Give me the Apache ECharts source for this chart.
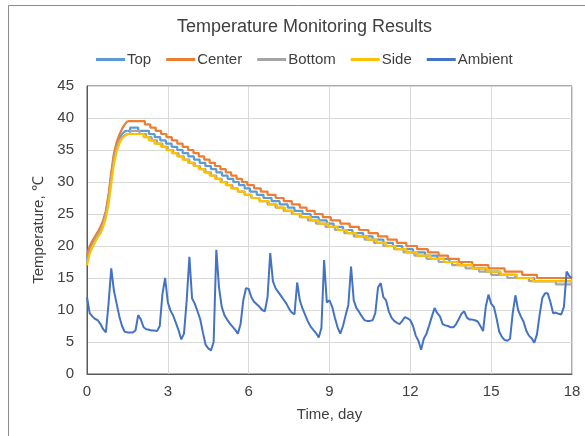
<!DOCTYPE html>
<html>
<head>
    <meta charset="UTF-8">
    <title>Temperature Monitoring Results</title>
    <script src="https://cdn.jsdelivr.net/npm/echarts@6/dist/echarts.min.js"></script>
    <style>
        html, body { margin: 0; padding: 0; background: #fff; }
        #main { width: 585px; height: 436px; }
    </style>
</head>
<body>
<div id="main"></div>
<script type="text/javascript">

    // heating phase, day 0 - 1.5 (smooth readings)
    var riseDays = [0, 0.1, 0.2, 0.3, 0.4, 0.5, 0.6, 0.7, 0.8, 0.9, 1, 1.1, 1.2, 1.3, 1.4, 1.5];
    var topRise = [18.0, 19.6, 20.4, 21.2, 22.0, 22.7, 23.7, 25.2, 27.6, 31.0, 34.0, 35.7, 36.8, 37.5, 37.9, 38.0];
    var centerRise = [18.5, 20.0, 20.8, 21.5, 22.2, 23.0, 24.0, 25.5, 28.0, 31.5, 34.5, 36.2, 37.4, 38.3, 39.0, 39.5];
    var bottomRise = [17.5, 19.2, 20.2, 21.0, 21.8, 22.5, 23.5, 25.0, 27.3, 30.6, 33.6, 35.4, 36.5, 37.0, 37.3, 37.5];
    var sideRise = [17.0, 18.8, 19.8, 20.6, 21.4, 22.0, 23.0, 24.4, 26.6, 29.8, 32.8, 34.8, 36.0, 36.8, 37.2, 37.5];

    // cooling phase: [day, reading] at each 0.5 degree step of the sensor
    var topSteps = [[1.5, 38.0], [1.6, 38.5], [1.9, 38.0], [2.3, 37.5], [2.51, 37.0], [2.72, 36.5], [2.93, 36.0],
        [3.14, 35.5], [3.35, 35.0], [3.55, 34.5], [3.76, 34.0], [3.97, 33.5], [4.18, 33.0], [4.39, 32.5], [4.6, 32.0],
        [4.8, 31.5], [5.01, 31.0], [5.22, 30.5], [5.43, 30.0], [5.64, 29.5], [5.85, 29.0], [6.05, 28.5], [6.3, 28.0],
        [6.55, 27.5], [6.85, 27.0], [7.15, 26.5], [7.45, 26.0], [7.7, 25.5], [8.0, 25.0], [8.3, 24.5], [8.6, 24.0],
        [8.9, 23.5], [9.15, 23.0], [9.5, 22.5], [9.85, 22.0], [10.25, 21.5], [10.6, 21.0], [11.0, 20.5], [11.35, 20.0],
        [11.7, 19.5], [12.1, 19.0], [12.55, 18.5], [13.0, 18.0], [13.45, 17.5], [13.9, 17.0], [14.35, 16.5], [14.8, 16.0],
        [15.3, 15.5], [15.9, 15.0], [16.6, 14.5], [18, 14.5]];

    var centerSteps = [[1.5, 39.5], [2.15, 39.0], [2.35, 38.5], [2.55, 38.0], [2.75, 37.5], [2.95, 37.0], [3.15, 36.5],
        [3.35, 36.0], [3.55, 35.5], [3.75, 35.0], [3.95, 34.5], [4.15, 34.0], [4.35, 33.5], [4.55, 33.0], [4.75, 32.5],
        [4.95, 32.0], [5.15, 31.5], [5.35, 31.0], [5.55, 30.5], [5.75, 30.0], [5.95, 29.5], [6.2, 29.0], [6.45, 28.5],
        [6.7, 28.0], [7.0, 27.5], [7.3, 27.0], [7.6, 26.5], [7.9, 26.0], [8.15, 25.5], [8.45, 25.0], [8.75, 24.5],
        [9.05, 24.0], [9.4, 23.5], [9.75, 23.0], [10.1, 22.5], [10.45, 22.0], [10.8, 21.5], [11.15, 21.0], [11.5, 20.5],
        [11.85, 20.0], [12.25, 19.5], [12.65, 19.0], [13.05, 18.5], [13.4, 18.0], [13.8, 17.5], [14.3, 17.0],
        [14.9, 16.5], [15.5, 16.0], [16.15, 15.5], [16.7, 15.0], [18, 15.0]];

    var bottomSteps = [[1.5, 37.5], [1.6, 38.0], [1.95, 37.5], [2.2, 37.0], [2.4, 36.5], [2.6, 36.0], [2.8, 35.5],
        [3.0, 35.0], [3.2, 34.5], [3.4, 34.0], [3.6, 33.5], [3.8, 33.0], [4.0, 32.5], [4.2, 32.0], [4.4, 31.5],
        [4.6, 31.0], [4.8, 30.5], [5.0, 30.0], [5.2, 29.5], [5.4, 29.0], [5.6, 28.5], [5.85, 28.0], [6.1, 27.5],
        [6.4, 27.0], [6.7, 26.5], [7.0, 26.0], [7.3, 25.5], [7.6, 25.0], [7.9, 24.5], [8.2, 24.0], [8.5, 23.5],
        [8.85, 23.0], [9.2, 22.5], [9.55, 22.0], [9.9, 21.5], [10.3, 21.0], [10.65, 20.5], [11.0, 20.0], [11.4, 19.5],
        [11.75, 19.0], [12.15, 18.5], [12.6, 18.0], [13.05, 17.5], [13.55, 17.0], [14.05, 16.5], [14.55, 16.0],
        [15.0, 15.5], [15.6, 15.0], [16.4, 14.5], [17.4, 14.0], [18, 14.0]];

    var sideSteps = [[1.5, 37.5], [2.1, 37.0], [2.3, 36.5], [2.5, 36.0], [2.75, 35.5], [2.95, 35.0], [3.15, 34.5],
        [3.35, 34.0], [3.55, 33.5], [3.75, 33.0], [3.95, 32.5], [4.15, 32.0], [4.35, 31.5], [4.55, 31.0], [4.75, 30.5],
        [4.95, 30.0], [5.15, 29.5], [5.35, 29.0], [5.6, 28.5], [5.85, 28.0], [6.1, 27.5], [6.4, 27.0], [6.75, 26.5],
        [7.05, 26.0], [7.35, 25.5], [7.65, 25.0], [7.95, 24.5], [8.3, 24.0], [8.6, 23.5], [8.95, 23.0], [9.3, 22.5],
        [9.65, 22.0], [10.0, 21.5], [10.4, 21.0], [10.75, 20.5], [11.1, 20.0], [11.45, 19.5], [11.85, 19.0],
        [12.25, 18.5], [12.75, 18.0], [13.25, 17.5], [13.75, 17.0], [14.3, 16.5], [14.85, 16.0], [15.35, 15.5],
        [15.95, 15.0], [16.55, 14.5], [18, 14.5]];

    // ambient air, one reading every 0.1 day from day 0 to day 18
    var ambientStep = 0.1;
    var ambientVals = [12.0, 9.5, 9.0, 8.6, 8.4, 7.8, 7.0, 6.5, 11.0, 16.5,
        13.0, 11.0, 9.0, 7.5, 6.6, 6.5, 6.5, 6.5, 6.8, 9.2,
        8.5, 7.3, 7.0, 6.9, 6.8, 6.8, 6.7, 7.5, 12.5, 15.0,
        11.2, 9.9, 9.1, 8.0, 6.8, 5.4, 6.3, 11.5, 18.3, 11.8,
        11.0, 9.8, 8.6, 6.5, 4.6, 4.0, 3.7, 5.0, 19.4, 13.5,
        10.5, 9.2, 8.5, 7.9, 7.4, 6.9, 6.3, 7.8, 11.5, 13.4,
        13.3, 12.0, 11.3, 10.9, 10.5, 10.0, 9.8, 12.0, 18.9, 14.5,
        13.4, 12.8, 12.2, 11.6, 11.0, 10.2, 9.6, 9.3, 14.3, 11.5,
        10.2, 9.2, 8.2, 7.4, 6.9, 6.4, 5.7, 7.2, 17.8, 11.2,
        11.5, 10.5, 8.8, 7.3, 6.3, 7.5, 9.2, 10.8, 16.8, 11.5,
        10.3, 9.7, 9.0, 8.4, 8.3, 8.3, 8.4, 9.5, 13.5, 14.2,
        12.0, 11.5, 9.8, 8.8, 8.3, 8.0, 7.8, 8.3, 8.9, 8.7,
        8.4, 7.5, 6.0, 5.2, 3.8, 5.5, 6.3, 7.6, 9.0, 10.3,
        9.5, 9.0, 7.8, 7.6, 7.5, 7.3, 7.3, 7.8, 8.6, 9.4,
        9.8, 8.8, 8.5, 8.5, 8.4, 8.2, 7.5, 6.7, 10.5, 12.4,
        11.0, 10.5, 8.7, 6.6, 5.8, 5.3, 5.2, 5.5, 9.5, 12.3,
        10.0, 9.0, 8.2, 6.8, 6.0, 5.6, 4.9, 6.2, 9.3, 11.9,
        12.6, 12.6, 11.2, 9.5, 9.6, 9.4, 9.3, 10.5, 16.0, 15.3,
        15.0];

    var seriesNames = ['Top', 'Center', 'Bottom', 'Side', 'Ambient'];
    var colors = {
        Top: '#5B9BD5',
        Center: '#ED7D31',
        Bottom: '#A5A5A5',
        Side: '#FFC000',
        Ambient: '#4472C4'
    };

    function pairs(days, vals) {
        var out = [];
        for (var i = 0; i < vals.length; i++) {
            out.push([days[i], vals[i]]);
        }
        return out;
    }

    var ambientDays = ambientVals.map(function (v, i) { return +(i * ambientStep).toFixed(1); });

    var myChart = echarts.init(document.getElementById('main'));

    var font = 'Liberation Sans, Arial, sans-serif';
    var textColor = '#404040';

    // each sensor = smooth heating part + stepped cooling part, same legend name
    function sensor(name, rise, steps) {
        var base = {
            name: name,
            type: 'line',
            showSymbol: false,
            symbol: 'none',
            color: colors[name],
            lineStyle: { width: 2.2, color: colors[name] }
        };
        var a = Object.assign({}, base, { data: pairs(riseDays, rise) });
        var b = Object.assign({}, base, { step: 'end', data: steps });
        return [a, b];
    }

    var series = [].concat(
        sensor('Top', topRise, topSteps),
        sensor('Center', centerRise, centerSteps),
        sensor('Bottom', bottomRise, bottomSteps),
        sensor('Side', sideRise, sideSteps),
        [{
            name: 'Ambient',
            type: 'line',
            showSymbol: false,
            symbol: 'none',
            color: colors.Ambient,
            lineStyle: { width: 2, color: colors.Ambient },
            data: pairs(ambientDays, ambientVals)
        }]
    );

    var option = {
        animation: false,
        textStyle: { fontFamily: font },
        title: {
            text: 'Temperature Monitoring Results',
            left: 172,
            top: 13,
            textStyle: { fontSize: 18, fontWeight: 'normal', color: textColor, fontFamily: font }
        },
        legend: {
            data: seriesNames,
            left: 91,
            top: 47,
            icon: 'rect',
            itemWidth: 29,
            itemHeight: 3,
            itemGap: 15,
            textStyle: { fontSize: 15, color: textColor, fontFamily: font, padding: [0, 0, 0, -3] }
        },
        graphic: [{
            type: 'rect',
            shape: { x: 8.5, y: 5.5, width: 700, height: 500 },
            style: { fill: 'none', stroke: '#8c8c8c', lineWidth: 1 },
            silent: true
        }],
        grid: {
            left: 87,
            right: 13,
            top: 86,
            bottom: 62,
            show: true,
            borderColor: '#595959',
            borderWidth: 1
        },
        xAxis: {
            type: 'value',
            min: 0,
            max: 18,
            interval: 3,
            name: 'Time, day',
            nameLocation: 'middle',
            nameGap: 33,
            nameTextStyle: { fontSize: 15, color: textColor, fontFamily: font },
            axisLine: { show: true, lineStyle: { color: '#595959', width: 1 } },
            axisTick: { show: false },
            axisLabel: { fontSize: 15, color: textColor, margin: 10, fontFamily: font },
            splitLine: { show: true, lineStyle: { color: '#D9D9D9', width: 1 } }
        },
        yAxis: {
            type: 'value',
            min: 0,
            max: 45,
            interval: 5,
            name: 'Temperature, ℃',
            nameLocation: 'middle',
            nameRotate: 90,
            nameGap: 37,
            nameTextStyle: { fontSize: 15, color: textColor, fontFamily: font },
            axisLine: { show: true, lineStyle: { color: '#595959', width: 1 } },
            axisTick: { show: false },
            axisLabel: { fontSize: 15, color: textColor, margin: 13, fontFamily: font },
            splitLine: { show: true, lineStyle: { color: '#D9D9D9', width: 1 } }
        },
        series: series
    };

    myChart.setOption(option);

</script>
</body>
</html>
